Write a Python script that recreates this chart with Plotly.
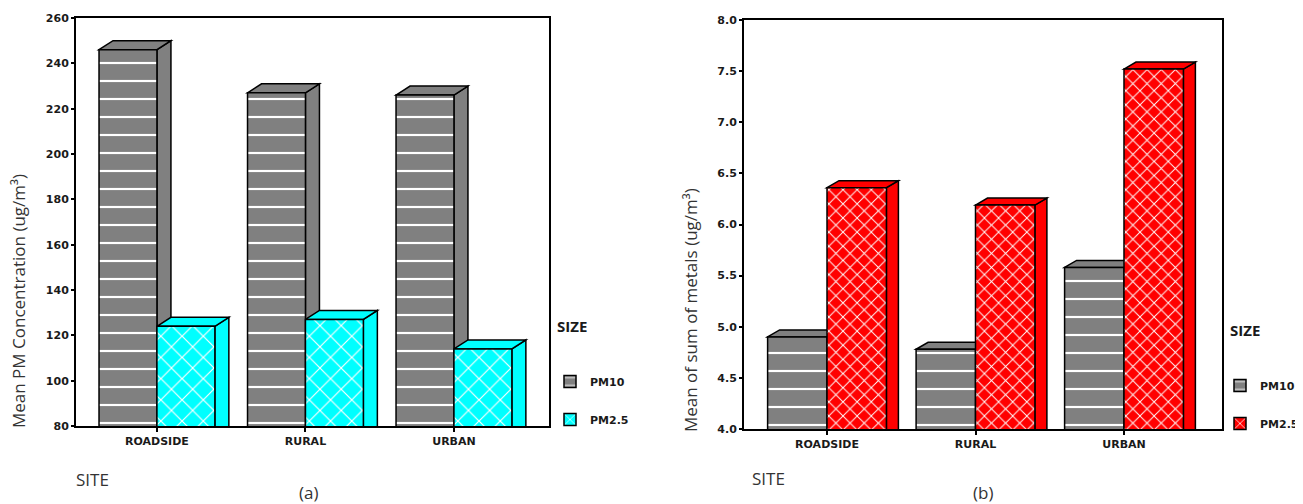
import plotly.graph_objects as go

# ---------------- data ----------------
sites = ["ROADSIDE", "RURAL", "URBAN"]
size_labels = ["PM10", "PM2.5"]
pm_conc_pm10 = [246, 227, 226]
pm_conc_pm25 = [124, 127, 114]
metals_pm10 = [4.90, 4.78, 5.58]
metals_pm25 = [6.36, 6.19, 7.52]
yticks_a = [80, 100, 120, 140, 160, 180, 200, 220, 240, 260]
yticks_b = [4.0, 4.5, 5.0, 5.5, 6.0, 6.5, 7.0, 7.5, 8.0]

W, H = 1303, 504
OFF = 8  # default page body margin in the written html
xpos = list(range(len(sites)))


def px(xp):
    return (xp - OFF) / W


def py(yp):
    return (H - (yp - OFF)) / H


GREY = "#808080"
CYAN = "#00ffff"
RED = "#ff0000"

fig = go.Figure()


def add_bars(vals10, vals25, xa, ya, color25, psize25, psol25, width, legend):
    fig.add_trace(go.Bar(
        x=xpos, y=vals10, name=size_labels[0], xaxis=xa, yaxis=ya,
        offset=-width, width=width, legend=legend, legendgroup=legend + "a",
        marker=dict(color=GREY, line=dict(color="black", width=1.5),
                    pattern=dict(shape="-", bgcolor=GREY, fgcolor="white",
                                 size=18, solidity=0.12, fillmode="replace")),
        hoverinfo="skip"))
    fig.add_trace(go.Bar(
        x=xpos, y=vals25, name=size_labels[1], xaxis=xa, yaxis=ya,
        offset=0, width=width, legend=legend, legendgroup=legend + "b",
        marker=dict(color=color25, line=dict(color="black", width=1.5),
                    pattern=dict(shape="x", bgcolor=color25, fgcolor="white",
                                 size=psize25, solidity=psol25, fillmode="replace")),
        hoverinfo="skip"))


add_bars(pm_conc_pm10, pm_conc_pm25, "x", "y", CYAN, 15, 0.15, 0.39, "legend")
add_bars(metals_pm10, metals_pm25, "x2", "y2", RED, 10, 0.18, 0.40, "legend2")

xr_a = [-0.545, 2.64]
yr_a = [80, 260]
xr_b = [-0.559, 2.66]
yr_b = [4.0, 8.0]
dom_a = (px(76), px(549))
dom_b = (px(744), px(1222))
ydom_a = (py(426), py(18))
ydom_b = (py(429), py(20))
# depth of the 3-D faces in data units (from each axis' pixel scale)
pxa = (dom_a[1] - dom_a[0]) * W / (xr_a[1] - xr_a[0])
pya = (ydom_a[1] - ydom_a[0]) * H / (yr_a[1] - yr_a[0])
pxb = (dom_b[1] - dom_b[0]) * W / (xr_b[1] - xr_b[0])
pyb = (ydom_b[1] - ydom_b[0]) * H / (yr_b[1] - yr_b[0])

shapes = []


def faces(vals, offset, width, base, dx, dy, color, xref, yref):
    for xc, v in zip(xpos, vals):
        xl = xc + offset
        xr = xl + width
        side = f"M{xr},{base} L{xr},{v} L{xr+dx},{v+dy} L{xr+dx},{base+dy*0.3} Z"
        top = f"M{xl},{v} L{xl+dx},{v+dy} L{xr+dx},{v+dy} L{xr},{v} Z"
        for p in (side, top):
            shapes.append(dict(type="path", path=p, xref=xref, yref=yref,
                               fillcolor=color, line=dict(color="black", width=1.5),
                               layer="below"))


faces(pm_conc_pm10, -0.39, 0.39, 0, 14 / pxa, 9 / pya, GREY, "x", "y")
faces(pm_conc_pm25, 0, 0.39, 0, 14 / pxa, 9 / pya, CYAN, "x", "y")
faces(metals_pm10, -0.40, 0.40, 0, 12 / pxb, 7 / pyb, GREY, "x2", "y2")
faces(metals_pm25, 0, 0.40, 0, 12 / pxb, 7 / pyb, RED, "x2", "y2")

tickfont = dict(family="DejaVu Sans", size=11, color="#1a1a1a", weight="bold")

common_x = dict(tickmode="array", tickvals=xpos, ticktext=sites, showgrid=False,
                zeroline=False, showline=True, linecolor="black", linewidth=2,
                mirror=True, ticks="outside", ticklen=4, tickwidth=2,
                tickcolor="black", tickfont=tickfont, fixedrange=True)
common_y = dict(showgrid=False, zeroline=False, showline=True, linecolor="black",
                linewidth=2, mirror=True, ticks="outside", ticklen=3, tickwidth=2,
                tickcolor="black", tickfont=tickfont, tickmode="array")

legfont = dict(family="DejaVu Sans", size=11, color="#1a1a1a", weight="bold")

fig.update_layout(
    width=W, height=H,
    margin=dict(l=0, r=0, t=0, b=0, autoexpand=False),
    paper_bgcolor="white", plot_bgcolor="white",
    barmode="overlay",
    showlegend=True,
    xaxis=dict(domain=list(dom_a), range=xr_a, anchor="y", **common_x),
    yaxis=dict(domain=list(ydom_a), range=yr_a, anchor="x", tickvals=yticks_a,
               **common_y),
    xaxis2=dict(domain=list(dom_b), range=xr_b, anchor="y2", **common_x),
    yaxis2=dict(domain=list(ydom_b), range=yr_b, anchor="x2", tickvals=yticks_b,
                tickformat=".1f", **common_y),
    legend=dict(x=px(550), y=py(367), xanchor="left", yanchor="top",
                traceorder="grouped", tracegroupgap=19, font=legfont,
                bgcolor="rgba(0,0,0,0)"),
    legend2=dict(x=px(1220), y=py(371), xanchor="left", yanchor="top",
                 traceorder="grouped", tracegroupgap=19, font=legfont,
                 bgcolor="rgba(0,0,0,0)"),
    shapes=shapes,
)

title_font = dict(family="Open Sans", size=17, color="#333333")
ann = [
    dict(text="Mean PM Concentration (ug/m³)", x=px(19), y=py(301), textangle=-90),
    dict(text="Mean of sum of metals (ug/m³)", x=px(690), y=py(310), textangle=-90),
    dict(text="SITE", x=px(92), y=py(479)),
    dict(text="SITE", x=px(768), y=py(478)),
    dict(text="(a)", x=px(308), y=py(492)),
    dict(text="(b)", x=px(983), y=py(492)),
]
for a in ann:
    fig.add_annotation(xref="paper", yref="paper", showarrow=False,
                       xanchor="center", yanchor="middle", font=title_font, **a)
for xs, ys in ((572, 326), (1245, 330)):
    fig.add_annotation(text="SIZE", xref="paper", yref="paper", x=px(xs), y=py(ys),
                       showarrow=False, xanchor="center", yanchor="middle",
                       font=dict(family="Open Sans", size=15, color="#1a1a1a", weight="bold"))

fig.write_html("out.html")
